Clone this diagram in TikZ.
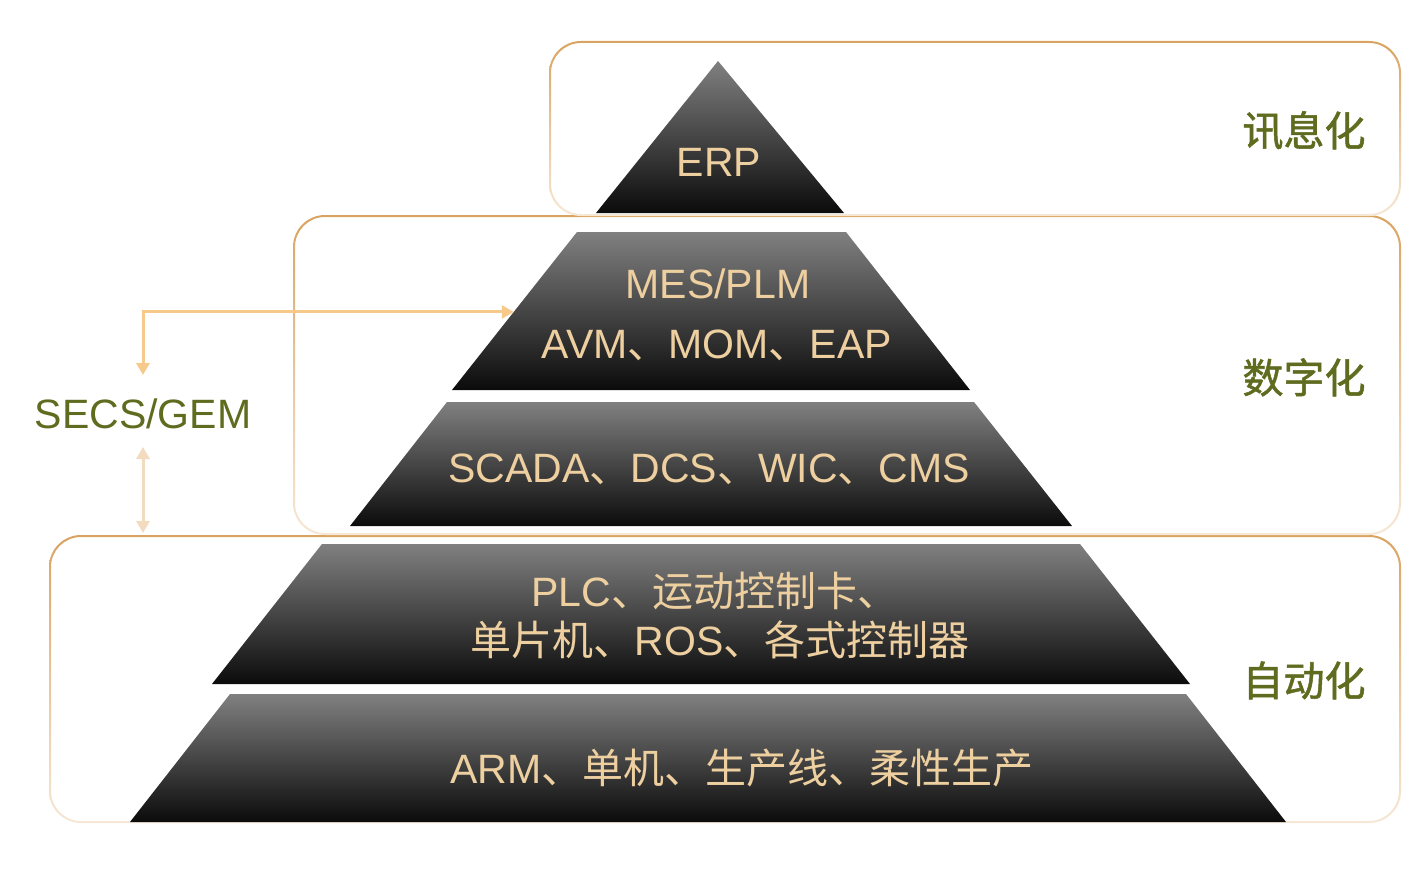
\documentclass[tikz,border=0pt]{standalone}
\usepackage{fontspec}
\setmainfont{Liberation Sans}
\newfontfamily\cjk{Noto Sans CJK SC}
\newfontfamily\cjkm[FakeBold=1.3]{Noto Sans CJK SC}
\usetikzlibrary{arrows.meta,calc}
\definecolor{bordtop}{HTML}{D9A462}
\definecolor{bordbot}{HTML}{F6E8D6}
\definecolor{gtop}{HTML}{808080}
\definecolor{gmid}{HTML}{383838}
\definecolor{gbot}{HTML}{0B0B0B}
\definecolor{tan}{HTML}{EDCFA0}
\definecolor{olive}{HTML}{5F6B1F}
\definecolor{arrA}{HTML}{F7CA8C}
\definecolor{arrB}{HTML}{F2DBBE}
\tikzset{
  layer/.style={top color=gtop, middle color=gmid, bottom color=gbot},
  ltext/.style={text=tan, font=\fontsize{41}{48}\selectfont, anchor=base, inner sep=0pt},
  side/.style={text=olive, font=\fontsize{41}{48}\selectfont\cjkm, anchor=base, inner sep=0pt},
  conn/.style={line width=3pt, {Triangle[length=12pt,width=13pt]}-{Triangle[length=12pt,width=13pt]}},
}
\newcommand{\bordbox}[4]{%
  \shade[top color=bordtop, bottom color=bordbot, even odd rule]
    [rounded corners=32pt] (#1,#2) rectangle (#3,#4)
    [rounded corners=30pt] ($(#1,#2)+(2,2)$) rectangle ($(#3,#4)+(-2,-2)$);}
\begin{document}
\begin{tikzpicture}[x=1pt,y=-1pt]
\useasboundingbox (0,0) rectangle (1422,872);
% bordered regions
\bordbox{49}{535}{1401}{823}
\bordbox{293}{215}{1401}{535}
\bordbox{549}{41}{1401}{216}
% pyramid layers
\shade[layer] (718,61) -- (844,213) -- (596,213) -- cycle;
\coordinate (mestl) at (577,232);
\coordinate (mesbl) at (452,390);
\shade[layer] (mestl) -- (846,232) -- (970,390) -- (mesbl) -- cycle;
\shade[layer] (447,402) -- (974,402) -- (1072,526) -- (350,526) -- cycle;
\shade[layer] (322,544) -- (1080,544) -- (1190,684) -- (212,684) -- cycle;
\shade[layer] (230,694) -- (1186,694) -- (1286,822) -- (130,822) -- cycle;
% layer texts
\node[ltext] (erp) at (719,177) {ERP};
\node[ltext] (mes) at (718,298) {MES/PLM};
\node[ltext] (avm) at (717,358) {AVM{\cjk 、}MOM{\cjk 、}EAP};
\node[ltext] (scada) at (709,482) {SCADA{\cjk 、}DCS{\cjk 、}WIC{\cjk 、}CMS};
\node[ltext] (plc1) at (715,606) {PLC{\cjk 、运动控制卡、}};
\node[ltext] (plc2) at (720,655) {{\cjk 单片机、}ROS{\cjk 、各式控制器}};
\node[ltext] (arm) at (742,783) {ARM{\cjk 、单机、生产线、柔性生产}};
% side labels
\node[side] (xun) at (1304,146) {讯息化};
\node[side] (shu) at (1304,393) {数字化};
\node[side] (zi) at (1304,696) {自动化};
\node[text=olive, font=\fontsize{41}{48}\selectfont, anchor=base, inner sep=0pt] (secs) at (143,428) {SECS/GEM};
% connectors
\coordinate (s1) at (143,375);
\coordinate (s2) at (143,447);
\coordinate (s3) at (143,533);
\coordinate (mesin) at ($(mestl)!0.506!(mesbl)$);
\draw[conn, arrA] (s1) |- (mesin);
\draw[conn, arrB] (s2) -- (s3);
\end{tikzpicture}
\end{document}
